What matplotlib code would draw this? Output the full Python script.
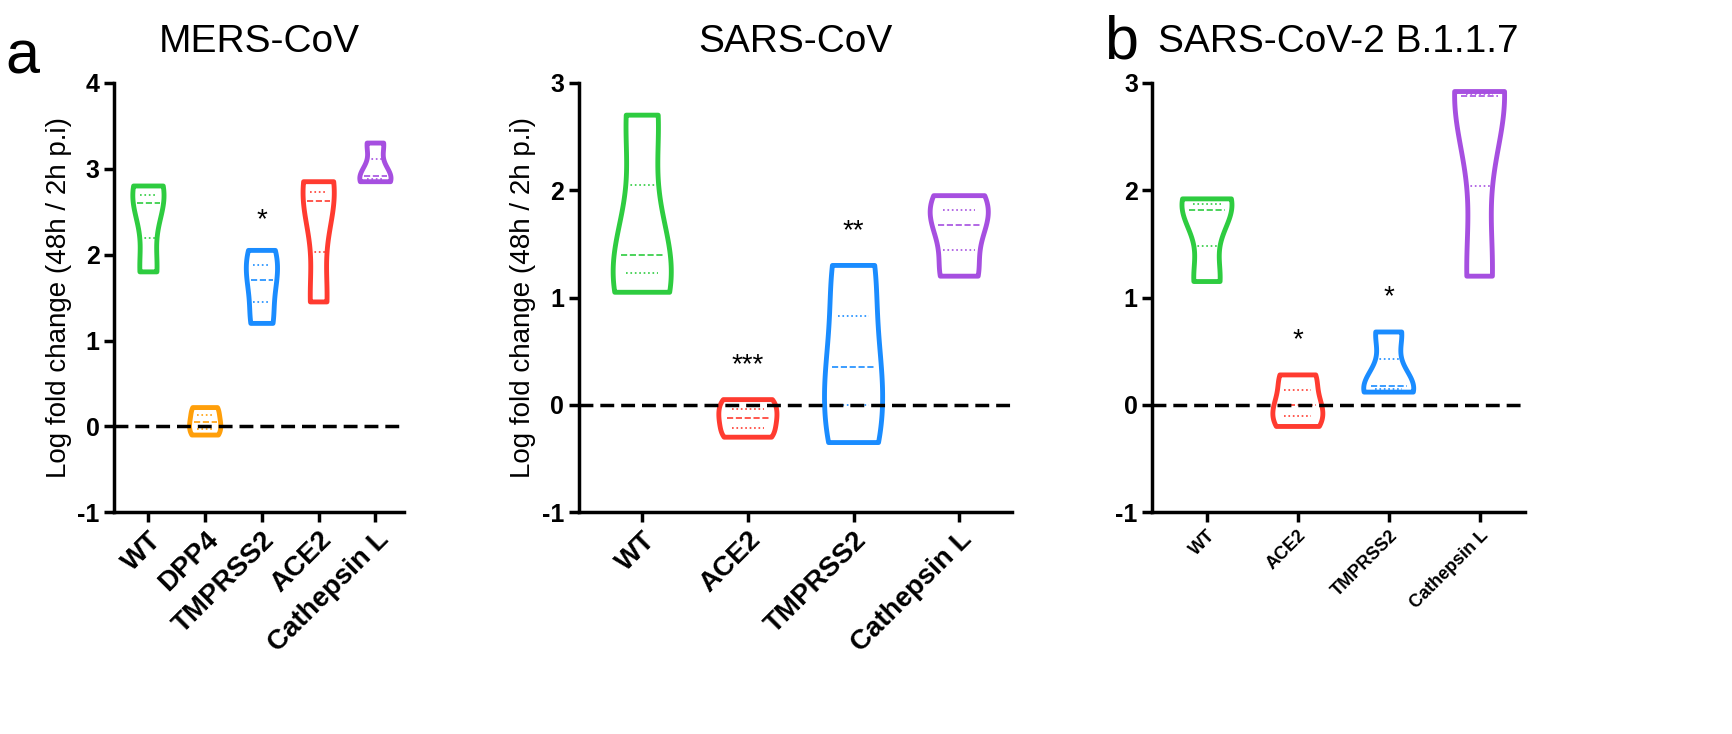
import numpy as np
import matplotlib.pyplot as plt

plt.rcParams['font.family'] = ['Liberation Sans', 'DejaVu Sans']

# replicate values
mers_labels = ["WT", "DPP4", "TMPRSS2", "ACE2", "Cathepsin L"]
mers_values = [[1.8, 2.6, 2.8], [-0.1, 0.05, 0.22], [1.2, 1.7, 2.05], [1.45, 2.62, 2.85], [2.85, 2.92, 3.3]]
mers_colors = ["#2ecc40", "#ff9f0a", "#1a8cff", "#ff3b30", "#a64fe0"]
mers_stars = {2: "*"}

sars_labels = ["WT", "ACE2", "TMPRSS2", "Cathepsin L"]
sars_values = [[1.05, 1.4, 2.7], [-0.3, -0.12, 0.05], [-0.35, 0.35, 1.3], [1.2, 1.68, 1.95]]
sars_colors = ["#2ecc40", "#ff3b30", "#1a8cff", "#a64fe0"]
sars_stars = {1: "***", 2: "**"}

b117_labels = ["WT", "ACE2", "TMPRSS2", "Cathepsin L"]
b117_values = [[1.15, 1.82, 1.92], [-0.2, 0.0, 0.28], [0.12, 0.18, 0.68], [1.2, 2.88, 2.92]]
b117_colors = ["#2ecc40", "#ff3b30", "#1a8cff", "#a64fe0"]
b117_stars = {1: "*", 2: "*"}

fig = plt.figure(figsize=(17.33, 7.34), dpi=100)


def panel(rect, title, labels, values, colors, stars, ylim, yticks, xfs, ylabel):
    ax = fig.add_axes(rect)
    pos = np.arange(1, len(labels) + 1)
    parts = ax.violinplot(values, positions=pos, widths=0.55, bw_method=0.6,
                          showextrema=False)
    for body, c in zip(parts['bodies'], colors):
        body.set_facecolor('none')
        body.set_edgecolor(c)
        body.set_linewidth(3.5)
        body.set_alpha(1)
    for p, v, c in zip(pos, values, colors):
        q1, med, q3 = np.percentile(v, [25, 50, 75])
        ax.hlines(med, p - 0.2, p + 0.2, colors=c, linestyles='--', lw=1.2)
        ax.hlines([q1, q3], p - 0.15, p + 0.15, colors=c, linestyles=':', lw=1.2)
    for i, s in stars.items():
        ax.text(pos[i], max(values[i]) + 0.2, s, ha='center', va='bottom', fontsize=20)
    ax.axhline(0, color='black', ls='--', lw=2.5, dashes=(4, 2))
    ax.set_xlim(0.4, len(labels) + 0.5)
    ax.set_ylim(*ylim)
    ax.set_yticks(yticks)
    ax.set_yticklabels([str(t) for t in yticks], fontsize=18, fontweight='bold')
    ax.set_xticks(pos)
    ax.set_xticklabels(labels, rotation=45, ha='right', rotation_mode='anchor',
                       fontsize=xfs, fontweight='bold')
    for s in ['top', 'right']:
        ax.spines[s].set_visible(False)
    for s in ['left', 'bottom']:
        ax.spines[s].set_linewidth(2.5)
    ax.tick_params(width=2.5, length=7)
    ax.set_title(title, fontsize=28, pad=22)
    if ylabel:
        ax.set_ylabel("Log fold change (48h / 2h p.i)", fontsize=20)
    return ax


panel([0.066, 0.302, 0.167, 0.585], "MERS-CoV", mers_labels, mers_values, mers_colors,
      mers_stars, (-1, 4), [-1, 0, 1, 2, 3, 4], 20, True)
panel([0.334, 0.302, 0.25, 0.585], "SARS-CoV", sars_labels, sars_values, sars_colors,
      sars_stars, (-1, 3), [-1, 0, 1, 2, 3], 20, True)
panel([0.665, 0.302, 0.215, 0.585], "SARS-CoV-2 B.1.1.7", b117_labels, b117_values, b117_colors,
      b117_stars, (-1, 3), [-1, 0, 1, 2, 3], 13, False)

fig.text(0.003, 0.9, "a", fontsize=44)
fig.text(0.637, 0.92, "b", fontsize=44)

fig.savefig("out.png", dpi=100)
